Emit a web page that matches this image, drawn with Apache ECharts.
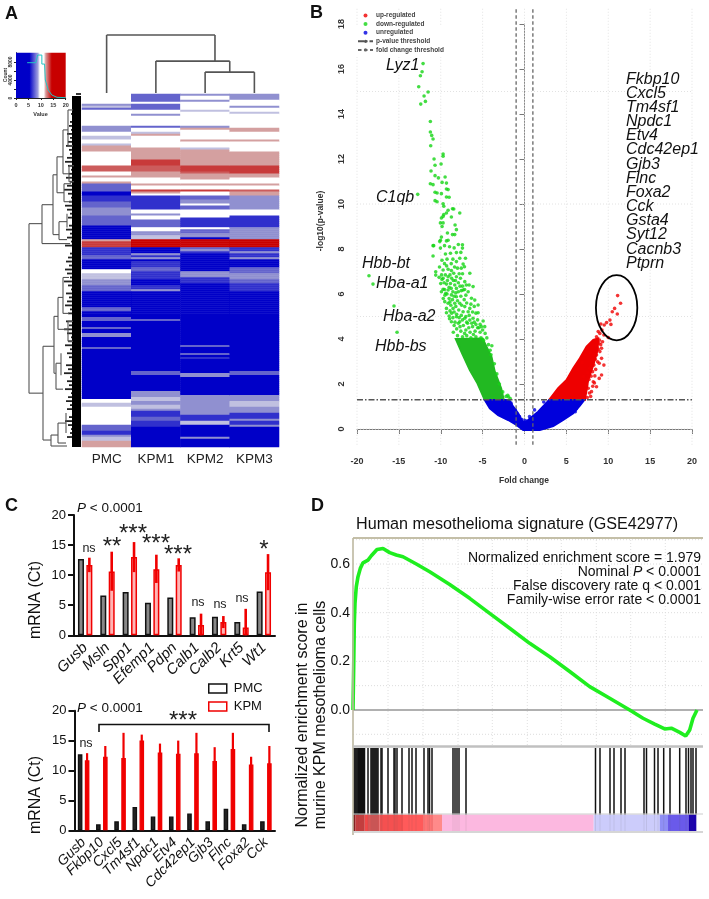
<!DOCTYPE html>
<html><head><meta charset="utf-8">
<style>html,body{margin:0;padding:0;background:#fff}#c{width:709px;height:899px;filter:blur(0.35px)}</style>
<script src="https://cdn.jsdelivr.net/npm/echarts@6/dist/echarts.min.js"></script>
</head><body><div id="c"></div>
<script>
// ---------- Panel A data: run lists [expression value, number of rows] top to bottom ----------
const heatCols = ['PMC','KPM1','KPM2','KPM3'];
const pmcRuns = [[10,5],[8,1],[9,1],[7,1],[10,8],[8,3],[10,2],[9,2],[10,2],[9,1],[12,3],[10,7],[13,3],[10,2],[12,1],[10,2],[12,1],[7,4],[5,2],[6,3],[7,3],[8,4],[7,5],[5,7],[12,1],[14,3],[6,4],[7,2],[5,5],[10,2],[9,3],[8,3],[7,3],[5,8],[7,2],[5,3],[7,2],[5,3],[7,1],[5,2],[8,2],[5,5],[7,1],[5,25],[10,2],[9,2],[10,9],[7,3],[6,2],[8,1],[9,2],[12,3]];
const kpm1Runs = [[7,4],[10,1],[7,3],[10,2],[8,1],[10,5],[7,1],[10,2],[9,1],[12,1],[10,6],[12,6],[14,3],[13,3],[12,3],[10,3],[12,1],[10,2],[14,1],[12,1],[10,1],[6,7],[10,2],[8,1],[10,2],[7,4],[10,2],[8,2],[9,2],[15,4],[5,3],[8,1],[6,1],[8,1],[5,1],[6,3],[7,2],[6,4],[5,3],[6,2],[8,1],[5,14],[7,1],[5,25],[7,2],[5,8],[8,3],[9,2],[8,2],[9,2],[8,1],[6,3],[7,2],[6,3],[5,10]];
const kpm2Runs = [[8,1],[10,2],[8,1],[10,4],[9,1],[10,7],[8,1],[12,1],[10,5],[12,1],[10,3],[9,1],[12,8],[14,3],[13,1],[12,3],[10,2],[12,1],[10,2],[14,1],[10,2],[7,2],[8,2],[10,1],[7,2],[10,4],[6,5],[10,1],[7,2],[8,2],[5,1],[15,4],[7,1],[8,1],[6,1],[5,9],[8,3],[6,3],[5,31],[7,1],[5,3],[7,1],[5,1],[6,1],[5,7],[8,2],[5,9],[8,10],[6,3],[9,2],[5,6],[8,1],[5,4]];
const kpm3Runs = [[8,3],[10,3],[8,1],[10,2],[9,1],[10,7],[12,2],[10,4],[12,1],[10,5],[12,7],[14,4],[12,2],[10,3],[12,1],[10,2],[13,1],[12,2],[8,7],[10,3],[6,6],[8,6],[15,4],[6,2],[8,1],[6,2],[8,1],[5,4],[7,3],[8,3],[7,2],[6,4],[5,40],[7,2],[5,10],[8,3],[9,3],[8,3],[6,3],[8,1],[6,2],[8,1],[5,10]];
const colDendro = [[0,0,0,1],[2.2,0.55,2.2,1],[0,1,2.2,1],[1,0,1,0.55],[2.5,0.36,2.5,0.55],[1,0.55,2.5,0.55],[2,0,2,0.36],[3,0,3,0.36],[2,0.36,3,0.36]];
const rowDendro = [[52,65,52,150],[52,65,39,65],[52,150,38,150],[39,55.5,39,75],[39,55.5,28,55.5],[39,75,11,75],[28,40.5,28,70.5],[28,40.5,24,40.5],[28,70.5,22,70.5],[24,31.5,24,49.5],[24,31.5,18,31.5],[24,49.5,17,49.5],[18,18,18,40],[18,18,13,18],[18,40,12,40],[13,8,13,26],[13,8,8,8],[13,26,8,26],[12,36,12,44],[12,36,7,36],[12,44,7,44],[17,45,17,54],[17,45,10,45],[17,54,9,54],[22,64,22,73],[22,64,14,64],[22,73,14,73],[14,60,14,67],[38,126.5,38,173.5],[38,126.5,27,126.5],[38,173.5,30,173.5],[27,111.5,27,140],[27,111.5,23,111.5],[27,140,25,140],[23,102,23,118],[23,102,18,102],[23,118,13,118],[18,92,18,110],[18,92,12,92],[18,110,12,110],[13,114,13,124],[13,114,8,114],[13,124,8,124],[25,135,25,148],[25,135,20,135],[25,148,18,148],[20,130,20,141],[30,171,30,176.5],[30,171,23,171],[30,176.5,14,176.5],[23,165,23,175],[23,165,15,165],[23,175,15,175],[15,160,15,170]];
const leafDepth = [5,6,7,8,9,10,9,11,12,10,14,11,13,15,12,11,14,16,13,10,12,15,11,14,17,13,10,12,16,14,11,13,9,12,15,11,14,10,16,8,11,13,15,12,16,14,11,17,13,10,15,12,14,16,11,13,9,15,12,17,14,10,13,16,11,14,12,9,15,13,17,11,14,12,16,10,13,15,11,14,9,12,16,13,10,11,14,8,7];
const keyHist = [[4.5,7850],[8,7850],[8.7,9550],[10.4,9550],[10.4,7550],[11.5,7550],[11.8,4000],[13,1780],[14.4,670],[16.5,150],[20,70]];

// ---------- Panel B data: fold change, -log10(p) ----------
const upPts = [[11.12,5.93],[11.47,5.59],[10.76,5.36],[10.48,5.21],[11.08,5.11],[10.2,4.84],[9.8,4.73],[9.52,4.62],[9.12,4.67],[10.32,4.65],[8.8,4.33],[9,4.25],[9.48,4.18],[10,4.07],[8.6,4.1],[9.2,3.59],[9,3.44],[8.6,3.29],[9.2,3.14],[8.73,2.99],[9.48,2.84],[8.29,2.84],[7.81,2.7],[9.2,2.4],[8.92,2.25],[8.21,2.1],[8.6,1.88],[8,1.66],[7.61,1.81],[7.01,2.33],[7.41,1.96],[8.4,2.36],[8.13,2.55],[8.92,2.92],[9.32,3.88],[8.88,3.81],[7.9,1.45],[7.5,1.4],[7.7,2.2],[8.5,2.65],[8.8,3.55],[8.95,3.95],[9.1,3.75],[9.25,4.4],[8.45,3.1],[7.95,2.35],[8.35,2.05],[7.3,1.75],[7.55,2.5],[8.05,3.05],[8.25,3.3],[8.55,3.7],[7.85,3.4],[7.2,3.3],[6.9,2.95],[6.4,2.65],[8.15,1.9],[7.75,1.6]];
const upMass = [[2.95,1.29],[4.02,1.81],[5.02,2.18],[5.82,2.7],[6.61,3.14],[7.41,3.66],[8.21,3.96],[8.8,4.03],[8.73,3.51],[8.21,2.84],[7.61,2.18],[7.21,1.29]];
const downPts = [[-12.11,16.24],[-12.23,15.88],[-12.43,15.7],[-12.63,15.21],[-11.51,14.98],[-11.99,14.8],[-11.83,14.56],[-12.39,14.44],[-11.24,13.67],[-11.24,13.2],[-11.08,13.05],[-10.92,12.89],[-11.2,12.59],[-10.8,12],[-9.72,12.22],[-9.72,12.12],[-9.96,11.78],[-10.68,11.72],[-11.16,11.47],[-10.68,11.26],[-10.28,11.16],[-9.48,11.2],[-11.24,10.9],[-10.92,10.86],[-9.84,10.96],[-9.32,10.93],[-10.68,10.52],[-10.44,10.49],[-9.32,10.67],[-9.12,10.64],[-9.92,10.46],[-9.32,10.31],[-9,10.3],[-10.68,10.15],[-10.44,10.1],[-9.72,10.01],[-9.64,9.9],[-8.6,9.79],[-8.45,9.78],[-9.12,9.72],[-7.73,9.6],[-9.32,9.6],[-9.64,9.53],[-9.72,9.45],[-9.92,9.38],[-8.73,9.42],[-10.04,9.16],[-9.72,9.16],[-8.29,9.07],[-9.84,9],[-8.13,8.86],[-9.2,8.71],[-8.33,8.64],[-8.6,8.64],[-9.92,8.53],[-10.04,8.39],[-9.12,8.39],[-7.41,8.19],[-10.92,8.15],[-10.04,8.04],[-7.41,8.04],
[-10.84,8.15],[-10.12,8.33],[-9.32,8.36],[-10.92,7.69],[-9.44,7.78],[-8.84,7.81],[-8.13,7.84],[-7.73,7.59],[-7.05,7.59],[-8.13,7.44],[-7.33,7.33],[-7.17,7.21],[-10.6,6.99],[-10.6,6.84],[-9.72,7.07],[-9.12,7.1],[-8.73,7.04],[-8.45,6.92],[-6.53,6.92],[-10.2,6.74],[-9.72,6.7],[-9.12,6.77],[-8.13,6.77],[-7.65,6.7],[-7.13,6.55],[-10,6.47],[-9.32,6.44],[-8.84,6.47],[-8.33,6.4],[-6.61,6.4],[-6.14,6.33],[-9.72,6.21],[-9.12,6.18],[-8.13,6.25],[-7.33,6.18],[-6.73,6.1],[-9.92,6.1],[-9.4,6.03],[-8.73,5.96],[-8.13,5.88],[-6.33,5.81],[-5.94,5.73],[-5.54,5.51],[-9.52,5.66],[-9.12,5.59],[-8.33,5.59],[-7.73,5.59],[-7.13,5.44],[-6.53,5.36],[-9.32,5.36],[-8.53,5.36],[-7.85,5.29],[-9.32,5.17],[-7.33,5.21],[-6.73,5.21],[-5.54,5.17],[-9,5.02],[-8.13,4.99],[-7.13,4.92],[-6.14,4.92],[-4.94,4.8],[-8.73,4.77],[-7.73,4.77],[-6.53,4.84],
[-8.4,4.6],[-8.1,4.45],[-7.9,4.7],[-7.6,4.35],[-7.3,4.6],[-7,4.4],[-6.8,4.7],[-6.5,4.3],[-6.2,4.55],[-5.9,4.35],[-5.6,4.5],[-5.3,4.3],[-5,4.4],[-4.7,4.25],[-4.5,4.05],[-8,4.15],[-7.4,4.1],[-6.9,4.15],[-6.4,4.05],[-5.8,4.1],[-5.2,4.05],[-4.9,3.95],[-4.3,3.75],[-4.1,3.5],[-4,3.3],[-3.9,3.7],[-3.6,2.9],[-3.3,2.45],[-3,2],[-2.6,1.65],[-2.2,1.45],[-1.9,1.42],[-1.7,1.35],[-2,1.5],
[-9.7,5.8],[-9.5,5.95],[-9,5.8],[-8.8,5.5],[-8.6,5.75],[-8.4,5.9],[-8.2,5.45],[-8,5.7],[-7.6,5.9],[-7.4,6.35],[-7.9,6.5],[-8.5,6.6],[-9,6.3],[-9.6,6.5],[-9.9,6.85],[-9.3,7.25],[-8.9,6.85],[-8.7,5.15],[-8.4,5.2],[-8.1,5.1],[-7.8,4.95],[-7,5],[-6.6,5.05],[-6,4.75],[-5.6,4.85],[-5.3,4.65],
[-7.5,5.5],[-7.2,5.75],[-7,5.95],[-6.9,5.6],[-6.4,5.55],[-6.2,5.2],[-6,5.45],[-5.8,5.15],[-7.55,5.05],[-7.4,4.85],[-6.9,4.75],[-6.3,4.7],[-5.8,4.65],[-8.55,4.95],[-8.9,5.25],[-8.95,4.9],[-8.5,4.3],[-8.3,4.75],[-7.7,4.55],[-7.15,4.25],[-6.65,4.5],[-6.1,4.2],[-5.45,4.5],[-5.15,4.55],[-4.75,4.55],[-8.9,5.65],[-8.55,6.1],[-8.2,6.05],[-7.9,6.1],[-7.55,6.15],[-7.15,6.2],[-6.95,6.4],[-7.7,6.35],[-8.75,6.25],[-9.25,6],[-9.55,6.2],[-9.85,6.65],[-9.45,6.85],[-9.2,6.6],[-8.7,6.7],[-8.25,6.6],[-7.8,6.9],[-7.4,6.9],[-7.55,7.15],[-8,7.15],[-8.35,7.2],[-8.75,7.35],[-9.55,7.35],[-10.15,7.2],[-9.85,7.5],[-9.25,7.55],[-8.55,7.55],[-7.6,7.85],[-8.95,8.1],[-8.4,8.05],[-7.9,8.2],[-9.55,8.15],
[-18.57,6.81],[-18.09,6.44],[-15.58,5.47],[-15.22,4.3],[-12.75,10.43]];
const downMass = [[-8.2,4],[-7.45,3.36],[-6.53,2.62],[-5.62,2.03],[-4.74,1.29],[-2.47,1.29],[-2.79,1.81],[-3.55,2.55],[-3.94,3.21],[-4.54,3.66],[-5,4.02]];
const flatPts = [[6.06,0.77],[6.2,0.9],[5.9,0.85],[-0.3,0.42],[0.1,0.38],[-1.1,0.85],[-1.6,1.15],[-0.6,0.55],[0.6,0.55],[1.2,0.85],[2.3,1.2]];
const flatMass = [[-4.74,1.29],[-4.14,0.92],[-3.15,0.62],[-1.95,0.4],[-0.96,0.18],[-0.16,-0.04],[1.83,-0.04],[3.43,0.13],[4.62,0.4],[5.82,0.7],[6.61,1.04],[7.13,1.29],[2.95,1.29],[1.63,0.77],[0.64,0.47],[0.24,0.33],[-0.24,0.33],[-0.76,0.7],[-1.35,0.99],[-1.83,1.29]];
const pThreshold = 1.3;
const foldThresholds = [-1,1];
const circled = [11,5.39,2.47,1.45];
const volcanoGridX = [-20,-15,-10,-5,0,5,10,15,20];
const volcanoGridY = [0,5,10,15];

// ---------- Panel C data ----------
const genes1 = ['Gusb','Msln','Spp1','Efemp1','Pdpn','Calb1','Calb2','Krt5','Wt1'];
const pmc1 = [12.7,6.6,7.2,5.4,6.3,3,3.1,2.2,7.3];
const kpm1 = [11.7,10.6,13,11,11.7,1.7,2.2,1.3,10.5];
const kpm1Lo = [10.5,7.4,10.5,8.7,10.6,0,1.2,0,7.5];
const kpm1Hi = [12.9,13.9,15.5,13.4,12.8,3.6,3.2,4.4,13.5];
const genes2 = ['Gusb','Fkbp10','Cxcl5','Tm4sf1','Npdc1','Etv4','Cdc42ep1','Gjb3','Flnc','Foxa2','Cck'];
const pmc2 = [12.7,1,1.5,3.9,2.3,2.3,2.8,1.5,3.6,1,1.5];
const kpm2 = [11.7,12.3,12.1,15,13,12.8,12.9,11.6,13.6,11,11.2];
const kpm2Lo = [10.5,10.5,8,14,11.5,10.6,9.5,9.3,11,9.7,8.3];
const kpm2Hi = [12.9,14.1,16.3,16,14.5,15,16.3,13.9,16.3,12.3,14.1];

// ---------- Panel D data: rank position, enrichment score ----------
const esCurve = [[0,0],[0.7,0.178],[1.3,0.356],[2,0.438],[3.3,0.507],[5,0.548],[7.3,0.582],[10,0.605],[15,0.616],[18.3,0.634],[24,0.66],[30,0.664],[36.7,0.647],[43.3,0.637],[50,0.63],[63.3,0.6],[76.7,0.568],[96.7,0.516],[116.7,0.459],[136.7,0.397],[156.7,0.336],[176.7,0.274],[196.7,0.219],[216.7,0.158],[236.7,0.096],[256.7,0.048],[276.7,0],[290,-0.034],[301.7,-0.058],[311.7,-0.078],[318.3,-0.075],[326.7,-0.092],[332.7,-0.107],[336.7,-0.082],[340,-0.034],[344,0]];
const hitRanks = [1,2,3,4,5,5.5,6.5,7.5,8.5,9.5,10.5,11.5,15,18,19,20,21,22,23,24,25,28,29,35,41,42,44,49,56,59,63,71,75,76.5,79,100,102,104,106,113,242.5,247,257,261,268,272,291,293.5,301.5,305,310.7,317,326.7,333,335.5,338,340,343];
const rankBands = [[0,2.3,'#8a1c1c'],[2.3,11.7,'#d23c3c'],[11.7,15,'#f04848'],[15,26.7,'#d95555'],[26.7,50,'#f55050'],[50,70,'#ff5a5a'],[70,80,'#ff7575'],[80,89,'#ff8a8a'],[89,240.7,'#fcb8e0'],[240.7,306.7,'#ccccfb'],[306.7,315,'#8f8ff5'],[315,336,'#6a5aea'],[336,343.3,'#1a00b0']];
const esLevels = [-0.1,0.1,0.2,0.3,0.4,0.5,0.6,0.7];
const rankGrid = [35,70,105,139.3,174.3,208.3,243.3,277.7,312.3];

// ---------- Helpers ----------
const FONT = '"Liberation Sans", Arial, sans-serif';
const expandRuns = runs => runs.flatMap(([v,n]) => Array(n).fill(v));
const heatData = [];
[pmcRuns,kpm1Runs,kpm2Runs,kpm3Runs].forEach((runs,c)=>expandRuns(runs).forEach((v,r)=>heatData.push([c,r,v])));
const rowCount = expandRuns(pmcRuns).length;

function seg(xi,yi,rows,style){
  return {type:'custom',xAxisIndex:xi,yAxisIndex:yi,silent:true,clip:false,encode:{x:[0,2],y:[1,3]},data:rows,
    renderItem:(p,api)=>{const a=api.coord([api.value(0),api.value(1)]),b=api.coord([api.value(2),api.value(3)]);
      return {type:'line',shape:{x1:a[0],y1:a[1],x2:b[0],y2:b[1]},style:Object.assign({fill:null},style)};}};
}
function mass(xi,yi,pts,color){
  return {type:'custom',xAxisIndex:xi,yAxisIndex:yi,silent:true,clip:false,encode:{x:0,y:1},data:pts,
    renderItem:(p,api)=>p.dataIndex===0?{type:'polygon',shape:{points:pts.map(q=>api.coord(q))},style:{fill:color,stroke:color,lineWidth:2}}:null};
}
function errs(xi,yi,lo,hi,shift,w){
  return {type:'custom',xAxisIndex:xi,yAxisIndex:yi,silent:true,encode:{x:0,y:[1,2]},data:lo.map((l,i)=>[i,l,hi[i]]),z:3,
    renderItem:(p,api)=>{const a=api.coord([api.value(0),api.value(1)]),b=api.coord([api.value(0),api.value(2)]),s=api.size([1,0])[0]*shift;
      return {type:'line',shape:{x1:a[0]+s,y1:a[1],x2:b[0]+s,y2:b[1]},style:{stroke:'#f00000',lineWidth:w,fill:null}};}};
}
function T(text,x,y,o={}){
  return {type:'text',x,y,rotation:o.rot||0,z:6,style:{text,font:`${o.style||'normal'} ${o.weight||'normal'} ${o.size||13}px ${FONT}`,fill:o.color||'#111',
    textAlign:o.align||'left',textVerticalAlign:'middle',rich:o.rich}};
}
function L(x1,y1,x2,y2,c,w){return {type:'line',z:5,shape:{x1,y1,x2,y2},style:{stroke:c,lineWidth:w}};}
const hid=(g,min,max,extra)=>Object.assign({type:'value',gridIndex:g,min,max,show:false},extra||{});
const italicP = size=>({i:{font:`italic ${size}px ${FONT}`,fill:'#111'}});
const boldGrey={color:'#333',fontWeight:'bold',fontFamily:FONT};

const geneTexts=['Fkbp10','Cxcl5','Tm4sf1','Npdc1','Etv4','Cdc42ep1','Gjb3','Flnc','Foxa2','Cck','Gsta4','Syt12','Cacnb3','Ptprn'];
const geneYs=[80,93.3,108,122,136,150,164.7,178.7,192.7,206.7,221,235,250,264];
const namedOut=[['Lyz1',386,66],['C1qb',376,198],['Hbb-bt',362,264],['Hba-a1',376,284],['Hba-a2',383,317],['Hbb-bs',375,347]];
const sig1=[['ns',89,549,12.5],['**',112,547,24],['***',133,534,24],['***',156,544,24],['***',178,555,24],['ns',198,603,12.5],['ns',220,605,12.5],['ns',242,599,12.5],['*',264,550,24]];

const chart=echarts.init(document.getElementById('c'),null,{renderer:'canvas',width:709,height:899});
chart.setOption({
  animation:false,backgroundColor:'#fff',textStyle:{fontFamily:FONT},
  visualMap:{show:false,seriesIndex:0,min:5,max:15,inRange:{color:['#0000c8','#3030cc','#6464cc','#9090d0','#c0c0e0','#ffffff','#ecd4d4','#d4a0a0','#cc5c5c','#c83a3a','#c80000']}},
  grid:[
    {left:82,width:197,top:94,height:353},
    {left:82,width:197,top:35,height:58},
    {left:0,width:81,top:94,height:353},
    {left:16,width:49.7,top:52.7,height:45.3},
    {left:357,width:335,top:24,height:405},
    {left:74,width:201,top:515,height:120.3},
    {left:74.5,width:200.5,top:710.7,height:119.6},
    {left:353,width:350,top:538,height:207},
    {left:353,width:350,top:748,height:83}
  ],
  xAxis:[
    {type:'category',gridIndex:0,data:heatCols,axisLine:{show:false},axisTick:{show:false},axisLabel:{fontSize:13.5,color:'#222',margin:5}},
    hid(1,-0.5,3.5),
    hid(2,0,81,{inverse:true}),
    {type:'value',gridIndex:3,min:0,max:20,interval:5,splitLine:{show:false},axisLine:{lineStyle:{color:'#222',width:1}},axisTick:{length:2,lineStyle:{color:'#222'}},axisLabel:Object.assign({fontSize:5.5,margin:4},boldGrey)},
    {type:'value',gridIndex:4,min:-20,max:20,interval:5,offset:16,splitLine:{show:false},axisLine:{lineStyle:{color:'#777',width:1}},axisTick:{length:5,lineStyle:{color:'#777'}},axisLabel:Object.assign({fontSize:9,margin:12},boldGrey)},
    {type:'category',gridIndex:5,data:genes1,axisLine:{lineStyle:{color:'#111',width:2}},axisTick:{alignWithLabel:true,length:7,lineStyle:{color:'#111',width:2}},axisLabel:{interval:0,rotate:45,fontStyle:'italic',fontSize:15,color:'#111',margin:10}},
    {type:'category',gridIndex:6,data:genes2,axisLine:{lineStyle:{color:'#111',width:2}},axisTick:{alignWithLabel:true,length:7,lineStyle:{color:'#111',width:2}},axisLabel:{interval:0,rotate:45,fontStyle:'italic',fontSize:14,color:'#111',margin:10}},
    hid(7,0,350),
    hid(8,0,350)
  ],
  yAxis:[
    {type:'category',gridIndex:0,inverse:true,data:Array.from({length:rowCount},(_,i)=>i),show:false},
    hid(1,0,1),
    hid(2,0,177,{inverse:true}),
    {type:'value',gridIndex:3,min:0,max:10074,splitLine:{show:false},axisLine:{lineStyle:{color:'#222',width:1}},axisTick:{customValues:[0,2000,4000,6000,8000],length:2,lineStyle:{color:'#222'}},axisLabel:Object.assign({customValues:[0,4000,8000],formatter:v=>String(v),fontSize:5,rotate:90,margin:3},boldGrey)},
    {type:'value',gridIndex:4,min:0,max:18,interval:2,splitLine:{show:false},axisLine:{lineStyle:{color:'#888',width:1}},axisTick:{length:5,lineStyle:{color:'#777'}},axisLabel:Object.assign({fontSize:9,rotate:90,margin:11},boldGrey)},
    {type:'value',gridIndex:5,min:0,max:20,interval:5,splitLine:{show:false},axisLine:{show:true,lineStyle:{color:'#111',width:2}},axisTick:{show:true,length:6,lineStyle:{color:'#111',width:2}},axisLabel:{fontSize:13,color:'#111',margin:8}},
    {type:'value',gridIndex:6,min:0,max:20,interval:5,splitLine:{show:false},axisLine:{show:true,lineStyle:{color:'#111',width:2}},axisTick:{show:true,length:6,lineStyle:{color:'#111',width:2}},axisLabel:{fontSize:13,color:'#111',margin:8}},
    {type:'value',gridIndex:7,min:-0.144,max:0.707,splitLine:{show:false},axisLine:{show:false},axisTick:{show:false},axisLabel:{customValues:[0,0.2,0.4,0.6],formatter:v=>v.toFixed(1),fontSize:14,color:'#111',margin:3}},
    hid(8,0,1)
  ],
  legend:[
    {left:357,top:12,orient:'vertical',itemWidth:15,itemHeight:4,itemGap:1.6,padding:0,z:7,selectedMode:false,
     textStyle:{fontSize:6.5,fontWeight:'bold',color:'#444',padding:[0,0,0,-2]},
     data:['up-regulated','down-regulated','unregulated','p-value threshold','fold change threshold']},
    {left:208,top:682,orient:'vertical',itemWidth:18,itemHeight:9,itemGap:5,padding:0,selectedMode:false,icon:'rect',
     textStyle:{fontSize:13,color:'#111',padding:[0,0,0,2]},
     data:[{name:'PMC',itemStyle:{color:'#fff',borderColor:'#111',borderWidth:1.5}},{name:'KPM',itemStyle:{color:'#fff',borderColor:'#f00000',borderWidth:1.5}}]}
  ],
  series:[
    {type:'heatmap',xAxisIndex:0,yAxisIndex:0,data:heatData,silent:true,progressive:0,itemStyle:{borderWidth:0}},
    seg(1,1,colDendro,{stroke:'#555',lineWidth:1.6}),
    seg(2,2,leafDepth.map((d,i)=>[0,i*2,d,i*2]),{stroke:'#222',lineWidth:1.8}),
    seg(2,2,[[4.5,1,4.5,177]],{stroke:'#000',lineWidth:9}),
    seg(2,2,rowDendro,{stroke:'#555',lineWidth:1.1}),
    {type:'custom',xAxisIndex:3,yAxisIndex:3,silent:true,encode:{x:[0,2],y:[1,3]},data:[[0,0,20,10074]],
     renderItem:(p,api)=>{const a=api.coord([api.value(0),api.value(3)]),b=api.coord([api.value(2),api.value(1)]);
       return {type:'rect',shape:{x:a[0],y:a[1],width:b[0]-a[0],height:b[1]-a[1]},style:{fill:new echarts.graphic.LinearGradient(0,0,1,0,[{offset:0,color:'#0000c8'},{offset:0.27,color:'#0000c8'},{offset:0.44,color:'#a0a0de'},{offset:0.48,color:'#fff'},{offset:0.56,color:'#fff'},{offset:0.6,color:'#d89a9a'},{offset:0.72,color:'#c80000'},{offset:1,color:'#c80000'}])}};}},
    {type:'line',xAxisIndex:3,yAxisIndex:3,data:keyHist,symbol:'none',silent:true,lineStyle:{color:'#22c4c4',width:1}},
    // Panel B
    seg(4,4,volcanoGridX.map(v=>[v,-0.7,v,18.7]),{stroke:'#e2e2e2',lineWidth:1,lineDash:[1,2]}),
    seg(4,4,volcanoGridY.map(v=>[-20,v,20,v]),{stroke:'#e2e2e2',lineWidth:1,lineDash:[1,2]}),
    mass(4,4,downMass,'#22b922'),
    mass(4,4,upMass,'#ee0000'),
    mass(4,4,flatMass,'#0000dc'),
    {type:'scatter',name:'up-regulated',xAxisIndex:4,yAxisIndex:4,data:upPts,symbolSize:3.6,silent:true,itemStyle:{color:'#f00000'}},
    {type:'scatter',name:'down-regulated',xAxisIndex:4,yAxisIndex:4,data:downPts,symbolSize:3.6,silent:true,itemStyle:{color:'#14d414'}},
    {type:'scatter',name:'unregulated',xAxisIndex:4,yAxisIndex:4,data:flatPts,symbolSize:3.6,silent:true,itemStyle:{color:'#0000e0'}},
    {type:'line',name:'p-value threshold',xAxisIndex:4,yAxisIndex:4,clip:false,symbol:'none',silent:true,data:[[-20,pThreshold],[20,pThreshold]],z:4,lineStyle:{color:'#555',width:1.3,type:[6,2,1.5,2]},itemStyle:{color:'#555'}},
    ...foldThresholds.map(f=>({type:'line',name:'fold change threshold',xAxisIndex:4,yAxisIndex:4,clip:false,symbol:'none',silent:true,data:[[f,-0.7],[f,18.7]],z:4,lineStyle:{color:'#666',width:1.3,type:[3.5,2.5]},itemStyle:{color:'#666'}})),
    {type:'custom',xAxisIndex:4,yAxisIndex:4,silent:true,clip:false,z:5,encode:{x:0,y:1},data:[circled],
     renderItem:(p,api)=>{const c=api.coord([api.value(0),api.value(1)]),s=api.size([api.value(2),api.value(3)]);
       return {type:'ellipse',shape:{cx:c[0],cy:c[1],rx:s[0],ry:s[1]},style:{stroke:'#000',lineWidth:1.8,fill:'transparent'}};}},
    // Panel C
    {type:'bar',name:'PMC',xAxisIndex:5,yAxisIndex:5,data:pmc1,barWidth:6,barGap:'40%',silent:true,itemStyle:{color:'#888',borderColor:'#111',borderWidth:1.5}},
    {type:'bar',name:'KPM',xAxisIndex:5,yAxisIndex:5,data:kpm1,barWidth:6,silent:true,itemStyle:{color:'#ffb4b4',borderColor:'#f00000',borderWidth:1.5}},
    errs(5,5,kpm1Lo,kpm1Hi,0.188,2.6),
    {type:'bar',name:'PMC',xAxisIndex:6,yAxisIndex:6,data:pmc2,barWidth:4.6,barGap:'52%',silent:true,itemStyle:{color:'#222',borderColor:'#111',borderWidth:1.3}},
    {type:'bar',name:'KPM',xAxisIndex:6,yAxisIndex:6,data:kpm2,barWidth:4.6,silent:true,itemStyle:{color:'#f00000',borderColor:'#f00000',borderWidth:1.3}},
    errs(6,6,kpm2Lo,kpm2Hi,0.19,2.2),
    // Panel D
    seg(7,7,rankGrid.map(r=>[r,-0.144,r,0.707]),{stroke:'#e0e0e0',lineWidth:1,lineDash:[1,2]}),
    seg(7,7,esLevels.map(v=>[0,v,350,v]),{stroke:'#dcdcdc',lineWidth:1,lineDash:[1,2]}),
    seg(7,7,[[0,0,350,0]],{stroke:'#b0b0b0',lineWidth:2}),
    {type:'line',xAxisIndex:7,yAxisIndex:7,data:esCurve,symbol:'none',silent:true,z:4,lineStyle:{color:'#1fee1f',width:3.6}},
    {type:'custom',xAxisIndex:8,yAxisIndex:8,silent:true,encode:{x:[0,1]},data:rankBands.map((b,i)=>[b[0],b[1],i]),
     renderItem:(p,api)=>{const a=api.coord([api.value(0),0.2]),b=api.coord([api.value(1),0]);
       return {type:'rect',shape:{x:a[0],y:a[1],width:b[0]-a[0],height:b[1]-a[1]},style:{fill:rankBands[api.value(2)][2]}};}},
    seg(8,8,hitRanks.map(r=>[r,0.2,r,1]),{stroke:'#111',lineWidth:1.5}),
    seg(8,8,hitRanks.map(r=>[r,0,r,0.2]),{stroke:'#555',lineWidth:1,opacity:0.12})
  ],
  graphic:{elements:[
    {type:'rect',z:3,shape:{x:356,y:26,width:92,height:31},style:{fill:'#fff'}},
    T('A',5,14,{size:18,weight:'bold'}),T('B',310,13,{size:18,weight:'bold'}),T('C',5,506,{size:18,weight:'bold'}),T('D',311,506,{size:18,weight:'bold'}),
    // A colour key captions
    T('Value',40.5,114,{size:5.5,weight:'bold',align:'center',color:'#333'}),
    T('Count',6,75,{size:5,weight:'bold',align:'center',rot:Math.PI/2,color:'#333'}),
    // B
    T('Fold change',524,481,{size:8.5,weight:'bold',align:'center',color:'#333'}),
    T('-log10(p-value)',321,221,{size:8.5,weight:'bold',align:'center',rot:Math.PI/2,color:'#333'}),
    ...geneTexts.map((g,i)=>T(g,626,geneYs[i],{size:16,style:'italic'})),
    ...namedOut.map(n=>T(n[0],n[1],n[2],{size:16,style:'italic'})),
    // C
    T('mRNA (Ct)',36,600,{size:16,align:'center',rot:Math.PI/2}),
    T('mRNA (Ct)',36,795,{size:16,align:'center',rot:Math.PI/2}),
    T('{i|P} < 0.0001',77,508,{size:13.5,rich:italicP(13.5)}),
    T('{i|P} < 0.0001',77,708,{size:13.5,rich:italicP(13.5)}),
    ...sig1.map(s=>T(s[0],s[1],s[2],{size:s[3],align:'center',color:'#222'})),
    T('ns',86,744,{size:12.5,align:'center',color:'#222'}),
    T('***',183,721,{size:24,align:'center',color:'#222'}),
    {type:'polyline',z:5,shape:{points:[[99,732],[99,724.5],[269,724.5],[269,732]]},style:{stroke:'#111',lineWidth:1.6,fill:null}},
    // D
    T('Human mesothelioma signature (GSE42977)',356,525,{size:16.15}),
    T('Normalized enrichment score = 1.979',701,558,{size:14,align:'right'}),
    T('Nominal {i|P} < 0.0001',701,572,{size:14,align:'right',rich:italicP(14)}),
    T('False discovery rate q < 0.001',701,586,{size:14,align:'right'}),
    T('Family-wise error rate < 0.0001',701,600,{size:14,align:'right'}),
    T('Normalized enrichment score in',303,715,{size:16,align:'center',rot:Math.PI/2}),
    T('murine KPM mesothelioma cells',321,715,{size:16,align:'center',rot:Math.PI/2}),
    L(353,538,703,538,'#c4bfa8',2),L(353,538,353,835,'#bdb8a0',1.6),L(353,746.5,703,746.5,'#c0c0c0',2.5),L(353,832,703,832,'#c8c8c8',1.5),L(353,814,703,814,'#ccc',1)
  ]}
});
</script></body></html>
